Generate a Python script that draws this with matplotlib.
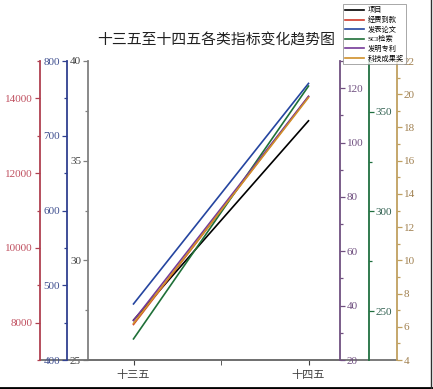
import matplotlib.pyplot as plt
from matplotlib.ticker import MultipleLocator

plt.rcParams['font.family'] = ['Liberation Serif', 'Noto Sans CJK SC']

periods = ['十三五', '十四五']
names = ['项目', '经费到款', '发表论文', 'SCI检索', '发明专利', '科技成果奖']

xiangmu = [27, 37]
jingfei = [7950, 14050]
lunwen = [475, 770]
sci = [236, 363]
zhuanli = [34.5, 117]
chengguo = [6.2, 19.8]

line_colors = ['black', '#d03a2a', '#2545a0', '#1f7038', '#763a98', '#d0902a']
spine_colors = ['#808080', '#b04050', '#304090', '#207040', '#705080', '#c0a060']
label_colors = ['#404040', '#c05060', '#405090', '#306050', '#705080', '#a08050']


def style_axis(ax, side, pos, color, lcolor, lim, major, minor):
	for s in ax.spines.values():
		s.set_visible(False)
	sp = ax.spines[side]
	sp.set_visible(True)
	sp.set_position(('axes', pos))
	sp.set_color(color)
	sp.set_linewidth(1.3)
	ax.yaxis.set_ticks_position(side)
	ax.yaxis.set_label_position(side)
	ax.set_ylim(*lim)
	ax.yaxis.set_major_locator(MultipleLocator(major))
	ax.yaxis.set_minor_locator(MultipleLocator(minor))
	ax.tick_params(axis='y', which='both', direction='out', colors=color,
		labelcolor=lcolor, labelsize=8, width=0.9)
	ax.tick_params(axis='y', which='major', length=3.5, pad=1.5)
	ax.tick_params(axis='y', which='minor', length=2)


fig = plt.figure(figsize=(4.33, 3.89), dpi=100)
ax = fig.add_axes([88/433, 1-360/389, 252/433, 299/389])

x = [0, 1]
series = [xiangmu, jingfei, lunwen, sci, zhuanli, chengguo]
setup = [
	('left', 0.0, (25, 40), 5, 2.5),
	('left', -48/252, (7000, 15000), 2000, 1000),
	('left', -21/252, (400, 800), 100, 50),
	('right', 1+29/252, (225.4, 375.6), 50, 25),
	('right', 1.0, (20, 130), 20, 10),
	('right', 1+57/252, (4, 22), 2, 1),
]

axes = [ax]
for i in range(1, 6):
	axes.append(ax.twinx())

handles = []
for i, a in enumerate(axes):
	side, pos, lim, major, minor = setup[i]
	style_axis(a, side, pos, spine_colors[i], label_colors[i], lim, major, minor)
	h, = a.plot(x, series[i], color=line_colors[i], lw=1.2)
	handles.append(h)
	a.set_xlim(-0.26, 1.18)

ax.spines['bottom'].set_visible(True)
ax.spines['bottom'].set_color('#707070')
ax.spines['bottom'].set_linewidth(1.3)
ax.set_xticks([0, 1])
ax.set_xticks([0.5], minor=True)
ax.set_xticklabels(periods, fontsize=8)
ax.tick_params(axis='x', which='both', direction='out', length=3.5, colors='#404040')

# bottom line running under the offset axes
ax.plot([-48/252, 1+57/252], [0, 0], transform=ax.transAxes, color='#707070',
	lw=1.3, clip_on=False)

fig.text(0.5, 1-40/389, '十三五至十四五各类指标变化趋势图', ha='center', va='center',
	fontsize=10.7, color='#202020')

leg = fig.legend(handles, names, loc='upper left', bbox_to_anchor=(343/433, 1-4/389),
	fontsize=5.2, handlelength=2.6, handletextpad=0.5, labelspacing=0.35,
	borderpad=0.3, borderaxespad=0, frameon=True, fancybox=False)
leg.get_frame().set_edgecolor('#808080')
leg.get_frame().set_linewidth(0.6)

# screenshot border at bottom and right
fig.add_artist(plt.Line2D([0, 1], [1/389, 1/389], color='black', lw=2))
fig.add_artist(plt.Line2D([431/433, 431/433], [0, 1], color='#303030', lw=1))

plt.savefig('out.png', dpi=100)
